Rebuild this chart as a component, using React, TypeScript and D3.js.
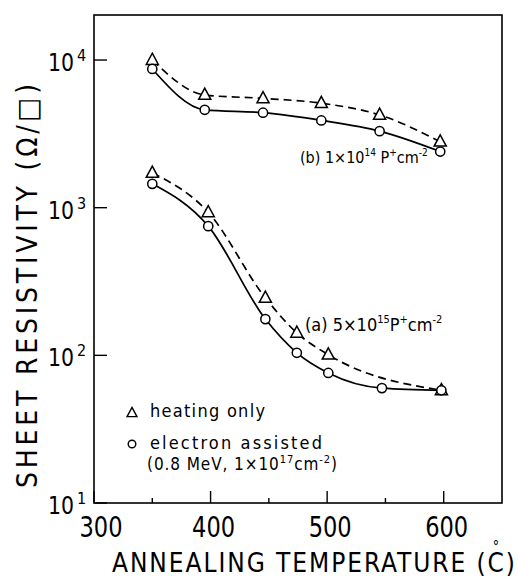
import React from "react";
import * as d3 from "d3";

// ---- data ----
const bHeatT = [350, 395, 445, 495, 545, 597];
const bHeatV = [10000, 5800, 5500, 5100, 4250, 2800];
const bElecT = [350, 395, 445, 495, 545, 597];
const bElecV = [8700, 4600, 4400, 3900, 3300, 2400];
const aHeatT = [350, 398, 447, 474, 501, 598];
const aHeatV = [1720, 930, 245, 142, 101, 58];
const aElecT = [350, 398, 447, 474, 501, 547, 598];
const aElecV = [1450, 750, 176, 104, 76, 60, 58];
const xMajor = [300, 400, 500, 600];
const xMinor = [350, 450, 550];
const yMajorExp = [1, 2, 3, 4];

const W = 518, H = 577;
const FONT = "'DejaVu Sans Condensed', 'DejaVu Sans', sans-serif";

export default function App() {
  const x = d3.scaleLinear().domain([300, 650]).range([94, 502]);
  const y = d3.scaleLog().domain([10, Math.pow(10, 4.305)]).range([503, 15]);
  const line = d3.line<[number, number]>()
    .x(d => x(d[0])).y(d => y(d[1])).curve(d3.curveMonotoneX);
  const pts = (t: number[], v: number[]) => t.map((tt, i) => [tt, v[i]] as [number, number]);

  const tri = (cx: number, cy: number, s: number) =>
    `M${cx},${cy - s * 0.62} L${cx + s * 0.55},${cy + s * 0.4} L${cx - s * 0.55},${cy + s * 0.4} Z`;

  const series = [
    { t: bHeatT, v: bHeatV, dash: "8,5", m: "tri" },
    { t: bElecT, v: bElecV, dash: "", m: "circ" },
    { t: aHeatT, v: aHeatV, dash: "8,5", m: "tri" },
    { t: aElecT, v: aElecV, dash: "", m: "circ" },
  ];

  return (
    <svg width={W} height={H} style={{ position: "absolute", left: 0, top: 0, background: "#fff" }}
      fontFamily={FONT}>
      <rect x={x(300)} y={y(Math.pow(10, 4.305))} width={x(650) - x(300)}
        height={y(10) - y(Math.pow(10, 4.305))} fill="none" stroke="#000" strokeWidth={1.6} />
      {/* x ticks */}
      {xMajor.map(v => (
        <line key={"xM" + v} x1={x(v)} x2={x(v)} y1={y(10)} y2={y(10) - 12} stroke="#000" strokeWidth={1.4} />
      ))}
      {xMinor.map(v => (
        <line key={"xm" + v} x1={x(v)} x2={x(v)} y1={y(10)} y2={y(10) - 5} stroke="#000" strokeWidth={1.4} />
      ))}
      {xMajor.map(v => (
        <text key={"xl" + v} x={x(v) + (v === 300 ? 7 : 3) - 21.5} y={537} fontSize={29}
          textLength={43} lengthAdjust="spacingAndGlyphs">{v}</text>
      ))}
      {/* y ticks */}
      {yMajorExp.map(e => (
        <line key={"yM" + e} x1={x(300)} x2={x(300) + 13} y1={y(Math.pow(10, e))} y2={y(Math.pow(10, e))}
          stroke="#000" strokeWidth={1.4} />
      ))}
      {yMajorExp.map(e => (
        <g key={"yl" + e}>
          <text x={48} y={y(Math.pow(10, e)) + 11} fontSize={24} textLength={26}
            lengthAdjust="spacingAndGlyphs">10</text>
          <text x={77} y={y(Math.pow(10, e)) + 1} fontSize={16}>{e}</text>
        </g>
      ))}
      {/* curves */}
      {series.map((s, i) => (
        <path key={"c" + i} d={line(pts(s.t, s.v)) || ""} fill="none" stroke="#000" strokeWidth={1.7}
          strokeDasharray={s.dash || undefined} />
      ))}
      {/* markers */}
      {series.map((s, i) => s.t.map((tt, j) => s.m === "tri" ? (
        <path key={"m" + i + "-" + j} d={tri(x(tt), y(s.v[j]), 11)} fill="#fff" stroke="#000" strokeWidth={1.5} />
      ) : (
        <circle key={"m" + i + "-" + j} cx={x(tt)} cy={y(s.v[j])} r={4.6} fill="#fff" stroke="#000" strokeWidth={1.5} />
      )))}
      {/* annotations */}
      <text x={300} y={163} fontSize={16}>
        (b) 1×10<tspan fontSize={10} dy={-7}>14</tspan><tspan dy={7}> P</tspan><tspan fontSize={10} dy={-7}>+</tspan><tspan dy={7}>cm</tspan><tspan fontSize={10} dy={-7}>-2</tspan>
      </text>
      <text x={305} y={331} fontSize={18}>
        (a) 5×10<tspan fontSize={11} dy={-8}>15</tspan><tspan dy={8}>P</tspan><tspan fontSize={11} dy={-8}>+</tspan><tspan dy={8}>cm</tspan><tspan fontSize={11} dy={-8}>-2</tspan>
      </text>
      {/* legend */}
      <path d={tri(132, 413, 9)} fill="#fff" stroke="#000" strokeWidth={1.4} />
      <text x={150} y={417} fontSize={18} textLength={115} lengthAdjust="spacing">heating  only</text>
      <circle cx={132} cy={444} r={3.8} fill="#fff" stroke="#000" strokeWidth={1.4} />
      <text x={150} y={449} fontSize={18} textLength={172} lengthAdjust="spacing">electron  assisted</text>
      <text x={147} y={470} fontSize={17} textLength={190} lengthAdjust="spacing">
        (0.8 MeV, 1×10<tspan fontSize={11} dy={-7}>17</tspan><tspan dy={7}>cm</tspan><tspan fontSize={11} dy={-7}>-2</tspan><tspan dy={7}>)</tspan>
      </text>
      {/* axis titles */}
      <text x={112} y={572} fontSize={26} textLength={403} lengthAdjust="spacing">ANNEALING  TEMPERATURE (C)</text>
      <text x={496} y={551} fontSize={14} textAnchor="middle">°</text>
      <text transform="translate(37,488) rotate(-90)" x={0} y={0} fontSize={28} textLength={404}
        lengthAdjust="spacing">SHEET  RESISTIVITY  (Ω/□)</text>
    </svg>
  );
}
